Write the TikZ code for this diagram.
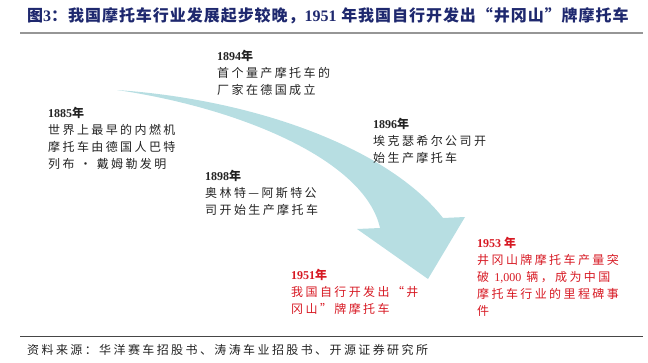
\documentclass[tikz,border=0pt]{standalone}
\usepackage{fontspec}
\setmainfont{Liberation Serif}
\newfontfamily\cjk[LetterSpace=20]{Noto Sans CJK SC}
\newfontfamily\cjktitle[LetterSpace=6]{Noto Sans CJK SC}
\definecolor{arrowfill}{RGB}{183,222,226}
\definecolor{titleblue}{RGB}{30,40,110}
\definecolor{evred}{RGB}{215,25,35}
\definecolor{evtext}{RGB}{35,35,35}
\newcommand\lat[1]{{\rmfamily #1}}
\newcommand\yr[1]{{\bfseries\rmfamily #1\cjk 年}}
\tikzset{
  evtxt/.style={anchor=north west, inner sep=0pt, align=left, text=evtext,
    font=\cjk\fontsize{12}{17}\selectfont},
  evred/.style={evtxt, text=evred},
  bigarrow/.style={fill=arrowfill, draw=none}
}
\begin{document}
\begin{tikzpicture}[x=1pt,y=-1pt]
\useasboundingbox (0,0) rectangle (648,362);
% title
\node[anchor=west, inner sep=0pt, text=titleblue,
  font=\cjktitle\bfseries\fontsize{16}{18}\selectfont] (title) at (27,16)
  {图\lat{3}：我国摩托车行业发展起步较晚，\lat{1951} 年我国自行开发出“井冈山”牌摩托车};
\coordinate (tl) at (20,33);
\coordinate (tr) at (643,33);
\draw[line width=2pt, draw={rgb,255:red,150;green,150;blue,150}] (tl) -- (tr);
% arrow
\path[bigarrow] (117,90) .. controls (260,100) and (390,150) .. (443,218)
  -- (465,217) -- (428,279) -- (357,229) -- (380,228)
  .. controls (365,160) and (240,108) .. (117,90) -- cycle;
% events
\node[evtxt] (e1885) at (48,107) {\yr{1885}\\世界上最早的内燃机\\摩托车由德国人巴特\\列布 · 戴姆勒发明};
\node[evtxt] (e1894) at (217,50) {\yr{1894}\\首个量产摩托车的\\厂家在德国成立};
\node[evtxt] (e1896) at (373,118) {\yr{1896}\\埃克瑟希尔公司开\\始生产摩托车};
\node[evtxt] (e1898) at (205,170) {\yr{1898}\\奥林特—阿斯特公\\司开始生产摩托车};
\node[evred] (e1951) at (291,269) {\yr{1951}\\我国自行开发出“井\\冈山”牌摩托车};
\node[evred] (e1953) at (477,237) {{\bfseries\rmfamily 1953 \cjk 年}\\井冈山牌摩托车产量突\\破 \lat{1,000} 辆，成为中国\\摩托车行业的里程碑事\\件};
% bottom
\coordinate (bl) at (20,336);
\coordinate (br) at (643,336);
\draw[line width=0.8pt, draw={rgb,255:red,70;green,70;blue,70}] (bl) -- (br);
\node[anchor=west, inner sep=0pt, text=evtext, font=\cjk\fontsize{12}{14}\selectfont] (src) at (27,350)
  {资料来源：华洋赛车招股书、涛涛车业招股书、开源证券研究所};
\end{tikzpicture}
\end{document}
